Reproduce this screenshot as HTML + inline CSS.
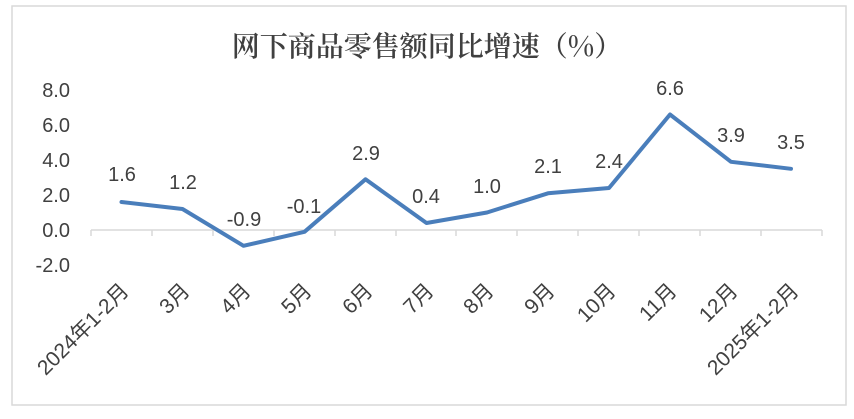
<!DOCTYPE html>
<html><head><meta charset="utf-8"><style>
body{margin:0;background:#fff}
svg text{font-family:"Liberation Sans","Noto Sans CJK SC",sans-serif;fill:#404040}
</style></head><body>
<svg width="854" height="414" viewBox="0 0 854 414" xmlns="http://www.w3.org/2000/svg">
<rect x="12" y="6" width="834" height="399" fill="#fff" stroke="#d9d9d9" stroke-width="1.5"/>
<text x="427" y="56" font-size="28" text-anchor="middle" style="font-family:'Noto Serif CJK SC','Noto Sans CJK SC',serif;font-weight:600" fill="#404040">网下商品零售额同比增速（%）</text>
<g font-size="20" text-anchor="end">
<text x="70" y="97">8.0</text><text x="70" y="132">6.0</text><text x="70" y="167">4.0</text>
<text x="70" y="202">2.0</text><text x="70" y="237">0.0</text><text x="70" y="272">-2.0</text>
</g>
<g stroke="#d9d9d9" stroke-width="1.5">
<line x1="91" y1="230" x2="822" y2="230"/>
<line x1="91" y1="230" x2="91" y2="236"/><line x1="152" y1="230" x2="152" y2="236"/><line x1="213" y1="230" x2="213" y2="236"/><line x1="274" y1="230" x2="274" y2="236"/><line x1="335" y1="230" x2="335" y2="236"/><line x1="396" y1="230" x2="396" y2="236"/><line x1="456" y1="230" x2="456" y2="236"/><line x1="517" y1="230" x2="517" y2="236"/><line x1="578" y1="230" x2="578" y2="236"/><line x1="639" y1="230" x2="639" y2="236"/><line x1="700" y1="230" x2="700" y2="236"/><line x1="761" y1="230" x2="761" y2="236"/><line x1="822" y1="230" x2="822" y2="236"/>
</g>
<polyline fill="none" stroke="#4a7ebb" stroke-width="4" stroke-linejoin="round" stroke-linecap="round"
points="121.5,202 182.5,209 243.5,245.8 304.5,231.8 365.5,179.3 426.5,223 487,212.5 548,193.3 609,188 670,114.5 731,161.8 791,168.8"/>
<g font-size="20" text-anchor="middle">
<text x="122" y="181">1.6</text><text x="183" y="189">1.2</text><text x="244" y="226">-0.9</text>
<text x="304" y="213">-0.1</text><text x="366" y="160">2.9</text><text x="426" y="203">0.4</text>
<text x="487" y="193">1.0</text><text x="548" y="173">2.1</text><text x="609" y="168">2.4</text>
<text x="670" y="95">6.6</text><text x="731" y="142">3.9</text><text x="791" y="149">3.5</text>
</g>
<g font-size="21" text-anchor="end">
<text transform="translate(130,292) rotate(-45)">2024年1-2月</text>
<text transform="translate(191,292) rotate(-45)">3月</text>
<text transform="translate(252,292) rotate(-45)">4月</text>
<text transform="translate(313,292) rotate(-45)">5月</text>
<text transform="translate(374,292) rotate(-45)">6月</text>
<text transform="translate(435,292) rotate(-45)">7月</text>
<text transform="translate(495,292) rotate(-45)">8月</text>
<text transform="translate(556,292) rotate(-45)">9月</text>
<text transform="translate(617,292) rotate(-45)">10月</text>
<text transform="translate(678,292) rotate(-45)">11月</text>
<text transform="translate(739,292) rotate(-45)">12月</text>
<text transform="translate(800,292) rotate(-45)">2025年1-2月</text>
</g>
</svg>
</body></html>
